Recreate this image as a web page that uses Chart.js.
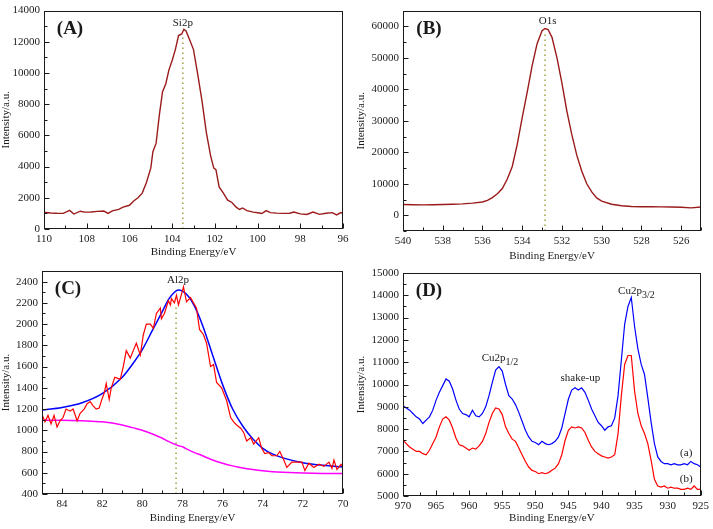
<!DOCTYPE html>
<html>
<head>
<meta charset="utf-8">
<script src="https://cdn.jsdelivr.net/npm/chart.js@4.4.0/dist/chart.umd.min.js"></script>
<style>
  body { margin: 0; background: #fff; }
  #wrap { position: relative; width: 713px; height: 529px; }
  canvas { position: absolute; }
</style>
</head>
<body>
<div id="wrap">
  <canvas id="cA" width="355" height="263" style="left:0;top:0"></canvas>
  <canvas id="cB" width="358" height="267" style="left:355px;top:0"></canvas>
  <canvas id="cC" width="355" height="269" style="left:0;top:260px"></canvas>
  <canvas id="cD" width="358" height="269" style="left:355px;top:260px"></canvas>
</div>
<script>
// (A) Si2p
const siX = [110, 109.7, 109.4, 109.1, 108.8, 108.6, 108.3, 108.1, 107.8, 107.5, 107.2, 107.0, 106.8, 106.5, 106.3, 106.0, 105.8, 105.6, 105.4, 105.2, 105.0, 104.9, 104.75, 104.6, 104.45, 104.3, 104.15, 104.0, 103.85, 103.7, 103.55, 103.45, 103.35, 103.2, 103.0, 102.8, 102.6, 102.4, 102.2, 102.05, 101.95, 101.8, 101.6, 101.4, 101.2, 101.0, 100.85, 100.7, 100.5, 100.2, 100.0, 99.8, 99.6, 99.4, 99.1, 98.8, 98.5, 98.3, 98.0, 97.7, 97.4, 97.1, 96.8, 96.5, 96.3, 96.1, 96.0];
const siY = [1070, 1030, 1010, 1000, 1190, 960, 1140, 1080, 1090, 1130, 1150, 1000, 1160, 1260, 1400, 1520, 1800, 2000, 2300, 3000, 3900, 4950, 5500, 7300, 8800, 9300, 10200, 10800, 11500, 12400, 12500, 12800, 12700, 12200, 11500, 9900, 8200, 6200, 4700, 3900, 3800, 2700, 2300, 1850, 1700, 1400, 1250, 1350, 1180, 1080, 1040, 990, 1180, 1050, 1020, 1000, 1010, 1090, 970, 930, 1090, 940, 1010, 1050, 900, 1050, 980];
const siXTicks = [110, 108, 106, 104, 102, 100, 98, 96];
const siYTicks = [0, 2000, 4000, 6000, 8000, 10000, 12000, 14000];

// (B) O1s
const oX = [540, 539.5, 539, 538.5, 538, 537.5, 537, 536.5, 536, 535.75, 535.5, 535.25, 535, 534.75, 534.5, 534.25, 534, 533.75, 533.5, 533.25, 533, 532.85, 532.7, 532.5, 532.25, 532, 531.75, 531.5, 531.25, 531, 530.75, 530.5, 530.25, 530, 529.5, 529, 528.5, 528, 527.5, 527, 526.5, 526, 525.5, 525];
const oY = [3400, 3350, 3300, 3350, 3400, 3500, 3600, 3850, 4200, 4700, 5600, 6800, 8500, 11500, 15500, 22500, 31000, 39000, 47500, 54500, 58600, 59300, 59000, 56500, 50000, 42000, 33000, 25500, 19000, 14000, 10000, 7400, 5500, 4500, 3500, 3000, 2800, 2700, 2700, 2650, 2600, 2550, 2350, 2600];
const oXTicks = [540, 538, 536, 534, 532, 530, 528, 526];
const oYTicks = [0, 10000, 20000, 30000, 40000, 50000, 60000];

// (C) Al2p: raw spectrum, fitted peak, background
const alX = [85, 84.85, 84.7, 84.55, 84.4, 84.25, 84.1, 83.95, 83.8, 83.6, 83.45, 83.25, 83.1, 82.9, 82.75, 82.6, 82.45, 82.3, 82.15, 82.0, 81.9, 81.8, 81.65, 81.55, 81.37, 81.1, 80.95, 80.8, 80.6, 80.45, 80.3, 80.1, 79.95, 79.8, 79.6, 79.45, 79.3, 79.1, 79.05, 78.9, 78.7, 78.6, 78.55, 78.4, 78.3, 78.2, 78.05, 77.95, 77.8, 77.6, 77.45, 77.3, 77.15, 76.95, 76.8, 76.6, 76.45, 76.3, 76.05, 75.8, 75.6, 75.45, 75.3, 75.1, 74.95, 74.8, 74.6, 74.45, 74.2, 74.05, 73.9, 73.7, 73.55, 73.3, 73.15, 72.95, 72.8, 72.55, 72.3, 72.05, 71.9, 71.7, 71.45, 71.2, 70.95, 70.7, 70.55, 70.45, 70.3, 70.1, 70];
const alY = [1150, 1080, 1140, 1060, 1140, 1030, 1090, 1120, 1200, 1180, 1200, 1090, 1160, 1200, 1250, 1270, 1230, 1200, 1210, 1300, 1350, 1440, 1290, 1400, 1500, 1480, 1600, 1750, 1680, 1750, 1820, 1710, 1900, 2000, 2000, 1960, 2100, 2150, 2050, 2100, 2220, 2180, 2240, 2200, 2270, 2180, 2280, 2350, 2210, 2250, 2200, 2150, 1950, 1900, 1820, 1600, 1620, 1450, 1400, 1280, 1120, 1080, 1050, 1020, 980, 900, 930, 870, 930, 830, 780, 790, 760, 760, 800, 720, 650, 700, 700, 700, 620, 690, 650, 680, 660, 700, 640, 720, 630, 680, 650];
const alFitX = [85, 84, 83, 82, 81, 80.5, 80, 79.5, 79, 78.7, 78.4, 78.2, 78, 77.7, 77.4, 77, 76.5, 76, 75.5, 75, 74.5, 74, 73.5, 73, 72, 71, 70];
const alFit = [1190, 1215, 1260, 1345, 1500, 1620, 1760, 1940, 2120, 2230, 2300, 2320, 2310, 2260, 2170, 1990, 1710, 1430, 1200, 1040, 920, 830, 775, 740, 695, 670, 655];
const alBg = [1095, 1095, 1090, 1080, 1050, 1025, 1000, 965, 925, 895, 870, 855, 845, 815, 790, 760, 720, 690, 665, 645, 630, 618, 610, 605, 598, 594, 592];
const alXTicks = [84, 82, 80, 78, 76, 74, 72, 70];
const alYTicks = [400, 600, 800, 1000, 1200, 1400, 1600, 1800, 2000, 2200, 2400];

// (D) Cu2p, samples (a) and (b)
const cuX = [970, 969.5, 969, 968.5, 968, 967.5, 967, 966.5, 966, 965.5, 965, 964.5, 964, 963.5, 963, 962.5, 962, 961.5, 961, 960.5, 960, 959.5, 959, 958.5, 958, 957.5, 957, 956.5, 956, 955.5, 955, 954.5, 954, 953.5, 953, 952.5, 952, 951.5, 951, 950.5, 950, 949.5, 949, 948.5, 948, 947.5, 947, 946.5, 946, 945.5, 945, 944.5, 944, 943.5, 943, 942.5, 942, 941.5, 941, 940.5, 940, 939.5, 939, 938.5, 938, 937.5, 937, 936.5, 936, 935.5, 935, 934.5, 934, 933.5, 933, 932.5, 932, 931.5, 931, 930.5, 930, 929.5, 929, 928.5, 928, 927.5, 927, 926.5, 926, 925.5, 925];
const cuA = [9050, 8950, 8850, 8700, 8550, 8450, 8250, 8400, 8550, 8850, 9300, 9650, 9950, 10250, 10150, 9800, 9300, 8900, 8700, 8650, 8550, 8850, 8600, 8550, 8700, 9000, 9500, 10100, 10650, 10800, 10600, 10000, 9500, 9350, 9100, 8750, 8350, 7950, 7650, 7450, 7400, 7300, 7450, 7350, 7300, 7350, 7450, 7650, 8050, 8700, 9350, 9750, 9850, 9750, 9850, 9650, 9300, 8900, 8600, 8300, 8150, 7950, 8100, 8150, 8500, 9500, 11100, 12700, 13500, 13900, 12600, 11600, 10900, 10450, 9400, 8300, 7350, 6750, 6550, 6450, 6450, 6400, 6450, 6400, 6400, 6450, 6400, 6550, 6450, 6400, 6300];
const cuB = [7500, 7350, 7200, 7100, 7000, 7000, 6900, 6850, 7050, 7350, 7650, 8100, 8450, 8550, 8400, 8050, 7600, 7300, 7250, 7150, 7050, 7150, 7100, 7250, 7450, 7800, 8300, 8700, 8950, 8900, 8650, 8100, 7800, 7550, 7450, 7150, 6850, 6550, 6300, 6150, 6100, 6000, 6050, 6000, 6050, 6150, 6250, 6450, 6850, 7500, 7950, 8100, 8050, 8100, 8050, 7850, 7500, 7200, 7000, 6900, 6800, 6750, 6700, 6750, 6850, 7800, 9500, 10900, 11300, 11300, 9700, 8700, 8150, 7800, 7350, 6600, 5750, 5450, 5400, 5450, 5350, 5400, 5350, 5350, 5300, 5300, 5350, 5300, 5450, 5300, 5300];
const cuXTicks = [970, 965, 960, 955, 950, 945, 940, 935, 930, 925];
const cuYTicks = [5000, 6000, 7000, 8000, 9000, 10000, 11000, 12000, 13000, 14000, 15000];

const FONT = "'Liberation Serif', 'Times New Roman', serif";
const INK = '#1a1a1a';
const DARKRED = '#9b1b1b';
const OLIVE = 'rgba(150, 150, 40, 0.9)';

const pts = (xs, ys) => xs.map((x, i) => ({ x: x, y: ys[i] }));
const guide = (x, y0, y1) => ({
  data: [{ x: x, y: y0 }, { x: x, y: y1 }],
  borderColor: OLIVE, borderWidth: 1.5, borderDash: [1.5, 3.5]
});

function drawText(ctx, x, y, lab) {
  ctx.font = '11px ' + FONT;
  ctx.textBaseline = 'middle';
  if (!lab.sub) {
    ctx.textAlign = 'center';
    ctx.fillText(lab.text, x, y);
    return;
  }
  ctx.textAlign = 'left';
  ctx.fillText(lab.text, x, y);
  const w = ctx.measureText(lab.text).width;
  ctx.font = '10px ' + FONT;
  ctx.fillText(lab.sub, x + w, y + 4);
}

function tickList(scale) {
  const v = scale.ticks.map(t => t.value);
  const step = v[1] - v[0];
  const out = v.map(t => [t, 5]);
  for (let i = -1; i < v.length; i++) {
    const m = v[0] + (i + 0.5) * step;
    if (m >= scale.min - 1e-9 && m <= scale.max + 1e-9) out.push([m, 3]);
  }
  return out;
}

// frame, inward ticks, peak labels and panel letter
const deco = {
  id: 'deco',
  afterDatasetsDraw(chart, args, opts) {
    const { ctx, chartArea: a, scales: { x, y } } = chart;
    ctx.save();
    ctx.strokeStyle = INK;
    ctx.lineWidth = 1;
    const L = Math.round(a.left) + 0.5, R = Math.round(a.right) - 0.5;
    const T = Math.round(a.top) + 0.5, B = Math.round(a.bottom) - 0.5;
    ctx.strokeRect(L, T, R - L, B - T);
    ctx.beginPath();
    tickList(x).forEach(([v, len]) => {
      const px = Math.round(x.getPixelForValue(v)) + 0.5;
      ctx.moveTo(px, B); ctx.lineTo(px, B - len);
    });
    tickList(y).forEach(([v, len]) => {
      const py = Math.round(y.getPixelForValue(v)) + 0.5;
      ctx.moveTo(L, py); ctx.lineTo(L + len, py);
    });
    ctx.stroke();

    ctx.fillStyle = INK;
    (opts.labels || []).forEach(lab => {
      drawText(ctx, x.getPixelForValue(lab.x), y.getPixelForValue(lab.y), lab);
    });
    ctx.font = 'bold 19px ' + FONT;
    ctx.textAlign = 'center';
    ctx.textBaseline = 'middle';
    ctx.fillText(opts.letter, a.left + 26, a.top + 18);
    ctx.restore();
  }
};

function panel(id, p) {
  new Chart(document.getElementById(id), {
    type: 'scatter',
    data: { datasets: p.datasets },
    options: {
      responsive: false,
      animation: false,
      layout: { padding: { left: 0, top: p.padTop, right: p.padRight, bottom: 0 } },
      elements: { point: { radius: 0 }, line: { borderWidth: 1.3, tension: 0 } },
      datasets: { scatter: { showLine: true, pointRadius: 0 } },
      scales: {
        x: {
          type: 'linear', reverse: true, min: p.xMin, max: p.xMax,
          grid: { display: false, drawTicks: false }, border: { display: false },
          afterBuildTicks: s => { s.ticks = p.xTicks.map(v => ({ value: v })); },
          afterFit: s => { s.height = p.xH; },
          ticks: { color: INK, padding: p.xPad, maxRotation: 0, autoSkip: false,
                   font: { family: FONT, size: 11 }, callback: v => String(v) },
          title: { display: true, text: 'Binding Energy/eV', color: INK,
                   font: { family: FONT, size: 11 }, padding: { top: 0, bottom: 4 } }
        },
        y: {
          min: p.yMin, max: p.yMax,
          grid: { display: false, drawTicks: false }, border: { display: false },
          afterBuildTicks: s => { s.ticks = p.yTicks.map(v => ({ value: v })); },
          afterFit: s => { s.width = p.yW; },
          ticks: { color: INK, padding: 4, autoSkip: false,
                   font: { family: FONT, size: 11 }, callback: v => String(v) },
          title: { display: true, text: 'Intensity/a.u.', color: INK,
                   font: { family: FONT, size: 11 }, padding: { top: 0, bottom: 0 } }
        }
      },
      plugins: {
        legend: { display: false },
        tooltip: { enabled: false },
        deco: { letter: p.letter, labels: p.labels }
      }
    },
    plugins: [deco]
  });
}

panel('cA', {
  padTop: 8, padRight: 12, yW: 44, xH: 34, xPad: 3.5,
  xMin: 96, xMax: 110, xTicks: siXTicks, yMin: 0, yMax: 14000, yTicks: siYTicks,
  letter: '(A)',
  labels: [{ text: 'Si2p', x: 103.5, y: 13180 }],
  datasets: [
    { data: pts(siX, siY), borderColor: DARKRED, borderWidth: 1.4 },
    guide(103.5, 0, 12400)
  ]
});

panel('cB', {
  padTop: 7, padRight: 12, yW: 48, xH: 36, xPad: 3.5,
  xMin: 525, xMax: 540, xTicks: oXTicks, yMin: -5000, yMax: 65000, yTicks: oYTicks,
  letter: '(B)',
  labels: [{ text: 'O1s', x: 532.72, y: 61660 }],
  datasets: [
    { data: pts(oX, oY), borderColor: DARKRED, borderWidth: 1.4 },
    guide(532.85, -5000, 58500)
  ]
});

panel('cC', {
  padTop: 11, padRight: 12, yW: 42, xH: 35, xPad: 3.5,
  xMin: 70, xMax: 85, xTicks: alXTicks, yMin: 400, yMax: 2500, yTicks: alYTicks,
  letter: '(C)',
  labels: [{ text: 'Al2p', x: 78.22, y: 2410 }],
  datasets: [
    { data: pts(alX, alY), borderColor: '#ff0000', borderWidth: 1.2 },
    { data: pts(alFitX, alFit), borderColor: '#0000ff', borderWidth: 1.5, cubicInterpolationMode: 'monotone' },
    { data: pts(alFitX, alBg), borderColor: '#ff00ff', borderWidth: 1.5, cubicInterpolationMode: 'monotone' },
    guide(78.32, 400, 2190)
  ]
});

panel('cD', {
  padTop: 13, padRight: 12, yW: 48, xH: 33, xPad: 4,
  xMin: 925, xMax: 970, xTicks: cuXTicks, yMin: 5000, yMax: 15000, yTicks: cuYTicks,
  letter: '(D)',
  labels: [
    { text: 'Cu2p', sub: '3/2', x: 937.5, y: 14190 },
    { text: 'Cu2p', sub: '1/2', x: 958.1, y: 11190 },
    { text: 'shake-up', x: 943.2, y: 10280 },
    { text: '(a)', x: 927.2, y: 6915 },
    { text: '(b)', x: 927.2, y: 5750 }
  ],
  datasets: [
    { data: pts(cuX, cuA), borderColor: '#0000ff', borderWidth: 1.2 },
    { data: pts(cuX, cuB), borderColor: '#ff0000', borderWidth: 1.2 }
  ]
});
</script>
</body>
</html>
